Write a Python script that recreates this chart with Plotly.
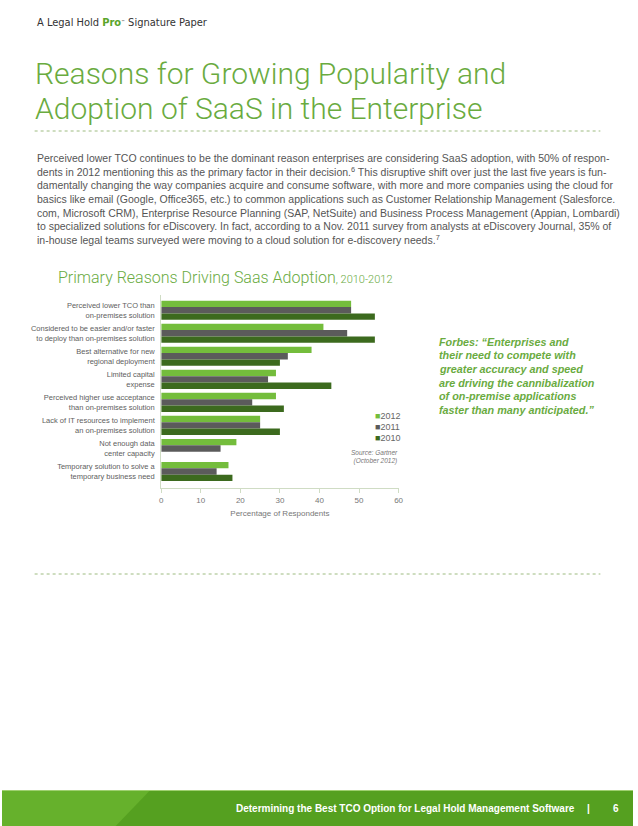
import plotly.graph_objects as go

W, H = 638, 826

categories = [
    "Perceived lower TCO than<br>on-premises solution",
    "Considered to be easier and/or faster<br>to deploy than on-premises solution",
    "Best alternative for new<br>regional deployment",
    "Limited capital<br>expense",
    "Perceived higher use acceptance<br>than on-premises solution",
    "Lack of IT resources to implement<br>an on-premises solution",
    "Not enough data<br>center capacity",
    "Temporary solution to solve a<br>temporary business need",
]
years = ["2012", "2011", "2010"]
values_2012 = [48, 41, 38, 29, 29, 25, 19, 17]
values_2011 = [48, 47, 32, 27, 23, 25, 15, 14]
values_2010 = [54, 54, 30, 43, 31, 30, 0, 18]
colors = {"2012": "#74bd3c", "2011": "#5b5b5b", "2010": "#3c6a1e"}
x_ticks = [0, 10, 20, 30, 40, 50, 60]

body_lines = [
    "Perceived lower TCO continues to be the dominant reason enterprises are considering SaaS adoption, with 50% of respon-",
    "dents in 2012 mentioning this as the primary factor in their decision.<sup>6</sup> This disruptive shift over just the last five years is fun-",
    "damentally changing the way companies acquire and consume software, with more and more companies using the cloud for",
    "basics like email (Google, Office365, etc.) to common applications such as Customer Relationship Management (Salesforce.",
    "com, Microsoft CRM), Enterprise Resource Planning (SAP, NetSuite) and Business Process Management (Appian, Lombardi)",
    "to specialized solutions for eDiscovery. In fact, according to a Nov. 2011 survey from analysts at eDiscovery Journal, 35% of",
    "in-house legal teams surveyed were moving to a cloud solution for e-discovery needs.<sup>7</sup>",
]
quote_lines = [
    "Forbes: \u201cEnterprises and",
    "their need to compete with",
    "greater accuracy and speed",
    "are driving the cannibalization",
    "of on-premise applications",
    "faster than many anticipated.\u201d",
]

GREEN = "#6aab3f"
GRAY = "#555555"
SANS = "Liberation Sans, Arial, sans-serif"


def py(p):
    return 1 - p / H


def px(p):
    return p / W


series = {"2012": values_2012, "2011": values_2011, "2010": values_2010}

fig = go.Figure()
for yr in years:
    fig.add_trace(go.Bar(
        y=list(range(len(categories))), x=series[yr], orientation="h",
        name=yr, marker=dict(color=colors[yr], line=dict(width=0)),
        showlegend=False, hoverinfo="x+name",
    ))

fig.update_layout(
    width=W, height=H, autosize=False,
    margin=dict(l=0, r=0, t=0, b=0),
    paper_bgcolor="white", plot_bgcolor="white",
    barmode="group", bargap=0.17, bargroupgap=0,
    font=dict(family=SANS, color=GRAY),
    showlegend=False,
    xaxis=dict(
        domain=[px(161), px(401)], range=[0, 60], tickvals=x_ticks,
        showgrid=False, zeroline=False, showline=True, linecolor="#cfdcc4",
        linewidth=1, ticks="outside", ticklen=4, tickcolor="#cfdcc4",
        tickfont=dict(size=8, color="#777777"),
        title=dict(text="Percentage of Respondents",
                   font=dict(size=8, color="#777777"), standoff=6),
    ),
    yaxis=dict(
        domain=[py(488), py(295)], range=[7.716, -0.66],
        tickvals=list(range(len(categories))), ticktext=categories,
        showgrid=False, zeroline=False, showline=True, linecolor="#cfdcc4",
        linewidth=1, ticks="", ticklabelstandoff=4,
        tickfont=dict(size=7.5, color="#606060"),
    ),
)

shapes = []
for yy in (131, 574):
    shapes.append(dict(type="line", xref="paper", yref="paper",
                       x0=px(33), x1=px(605), y0=py(yy), y1=py(yy),
                       line=dict(color="#9dbb80", width=1, dash="dot")))
# footer band
shapes.append(dict(type="rect", xref="paper", yref="paper",
                   x0=0, x1=1, y0=0, y1=py(790), fillcolor="#66b12c",
                   line=dict(width=0), layer="below"))
shapes.append(dict(type="path", xref="paper", yref="paper",
                   path=f"M {px(150)},{py(790)} L 1,{py(790)} L 1,0 L {px(115)},0 Z",
                   fillcolor="#55a020", line=dict(width=0), layer="below"))
shapes.append(dict(type="line", xref="paper", yref="paper",
                   x0=0, x1=1, y0=py(790.5), y1=py(790.5),
                   line=dict(color="#9fd070", width=1)))
fig.update_layout(shapes=shapes)

ann = []
ann.append(dict(text="A Legal Hold <span style='color:#5aa52a'><b>Pro</b></span><span style='font-size:6px'><sup>\u2122</sup></span> Signature Paper",
                x=px(33), y=py(22), xanchor="left", yanchor="middle",
                font=dict(family="Liberation Sans Narrow, DejaVu Sans Condensed, sans-serif", size=11, color="#333333")))
for i, t in enumerate(["Reasons for Growing Popularity and", "Adoption of SaaS in the Enterprise"]):
    ann.append(dict(text=t, x=px(31), y=py(73 + 35 * i), xanchor="left", yanchor="middle",
                    font=dict(family="Roboto, sans-serif", size=30, color=GREEN, weight=300)))
for i, t in enumerate(body_lines):
    ann.append(dict(text=t, x=px(33), y=py(158 + 13.65 * i), xanchor="left", yanchor="middle",
                    font=dict(family=SANS, size=10.5, color=GRAY)))
ann.append(dict(text="Primary Reasons Driving Saas Adoption<span style='font-size:11px'>, 2010-2012</span>",
                x=px(55), y=py(277), xanchor="left", yanchor="middle",
                font=dict(family="Roboto, sans-serif", size=16, color=GREEN, weight=300)))
for i, t in enumerate(quote_lines):
    ann.append(dict(text=f"<b><i>{t}</i></b>", x=px(440), y=py(341.5 + 13.7 * i),
                    xanchor="left", yanchor="middle",
                    font=dict(family=SANS, size=10.8, color=GREEN)))
# legend entries
for i, yr in enumerate(years):
    ann.append(dict(text=f"<span style='color:{colors[yr]}'>\u25a0</span>{yr}",
                    x=px(375), y=py(416 + 11 * i), xanchor="left", yanchor="middle",
                    font=dict(family=SANS, size=9, color="#666666")))
ann.append(dict(text="<i>Source: Gartner<br>(October 2012)</i>", x=px(402), y=py(457),
                xanchor="right", yanchor="middle", align="right",
                font=dict(family=SANS, size=6.5, color="#777777")))
ann.append(dict(text="<b>Determining the Best TCO Option for Legal Hold Management Software</b>",
                x=px(581), y=py(808), xanchor="right", yanchor="middle",
                font=dict(family=SANS, size=10, color="white")))
ann.append(dict(text="<b>|</b>", x=px(593), y=py(808), xanchor="center", yanchor="middle",
                font=dict(family=SANS, size=10, color="white")))
ann.append(dict(text="<b>6</b>", x=px(621), y=py(808), xanchor="center", yanchor="middle",
                font=dict(family=SANS, size=10, color="white")))
for a in ann:
    a.update(xref="paper", yref="paper", showarrow=False)
fig.update_layout(annotations=ann)

fig.write_html("out.html", config={"displayModeBar": False},
               post_script="document.body.style.margin='0px';document.body.style.overflow='hidden';")
